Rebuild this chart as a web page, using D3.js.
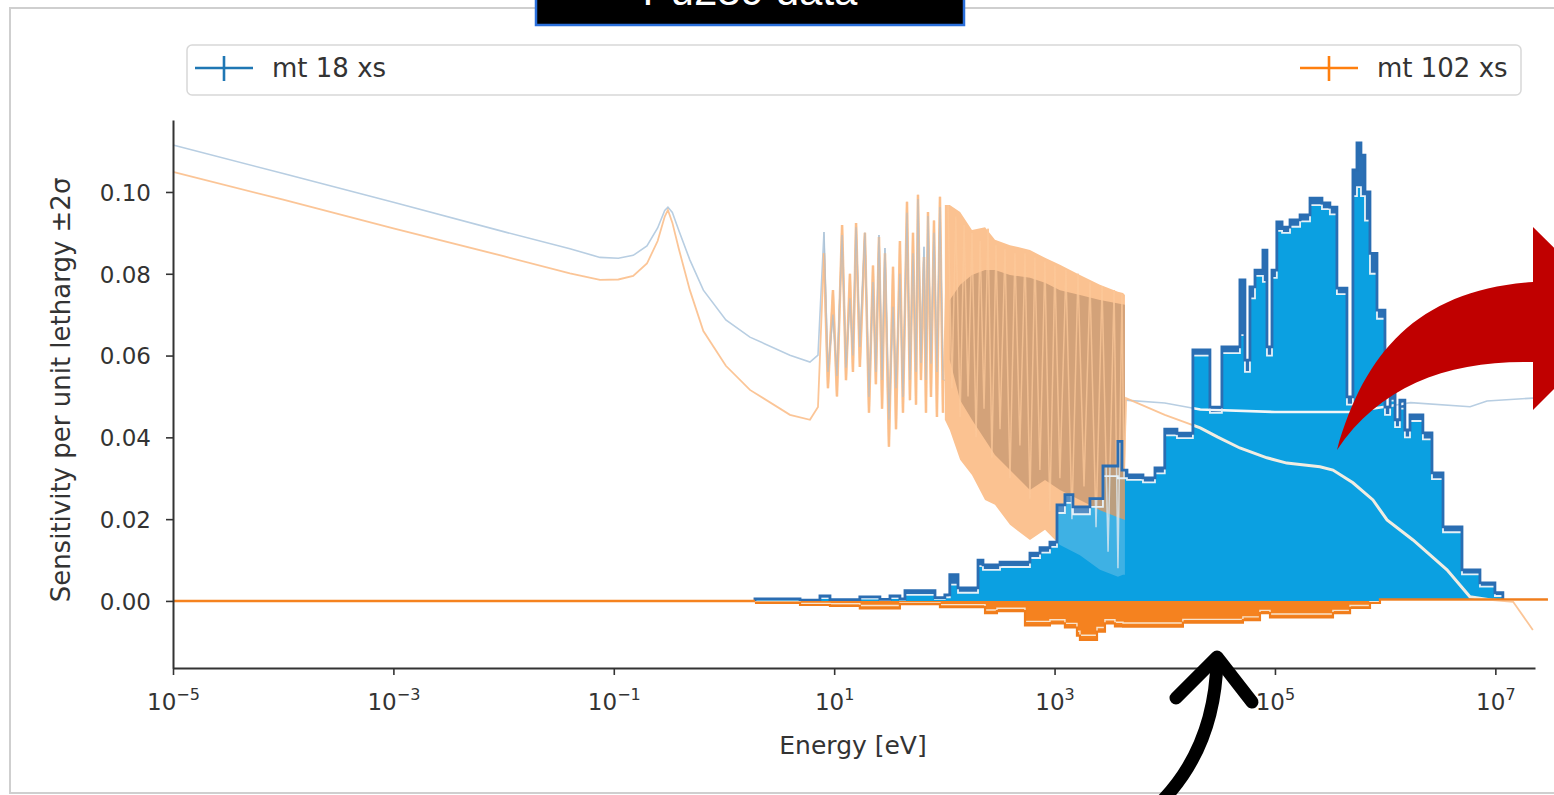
<!DOCTYPE html>
<html>
<head>
<meta charset="utf-8">
<script src="https://cdn.jsdelivr.net/npm/d3@7"></script>
<style>
  body { margin: 0; background: #fff; }
  svg { display: block; font-family: "DejaVu Sans", sans-serif; }
</style>
</head>
<body>
<svg id="chart" width="1554" height="795"></svg>
<script>
// ---- cross sections (faint lines), energy in eV ----
const thermalE = [1e-5, 1e-4, 1e-3, 1e-2, 0.04, 0.075, 0.11, 0.15, 0.2, 0.25, 0.29, 0.31, 0.34, 0.39, 0.49, 0.65, 1.04, 1.72, 3.97, 6.03, 7.13];
const thermalBlue = [0.1115, 0.1045, 0.0975, 0.0903, 0.0861, 0.0840, 0.0838, 0.0845, 0.0868, 0.0912, 0.0955, 0.0963, 0.0950, 0.0905, 0.0834, 0.0760, 0.0687, 0.0645, 0.0601, 0.0584, 0.0601];
const thermalOrange = [0.1049, 0.0981, 0.0911, 0.0843, 0.0801, 0.0785, 0.0786, 0.0795, 0.0825, 0.0880, 0.0940, 0.0956, 0.0925, 0.0860, 0.0760, 0.0660, 0.0575, 0.0516, 0.0455, 0.0443, 0.0474];

const resE = [8.08, 8.78, 9.75, 10.6, 11.8, 12.8, 13.9, 14.8, 15.8, 17.1, 19.0, 20.7, 22.5, 23.9, 25.5, 27.2, 28.9, 31.4, 34.2, 36.4,
  39.5, 42.1, 45.8, 48.7, 51.9, 55.3, 57.6, 61.3, 65.3, 68.1, 71.0, 75.6, 80.5, 85.6, 91.2, 97.1];
const resBlue = [0.0902, 0.0560, 0.0700, 0.0550, 0.0895, 0.0570, 0.0740, 0.0600, 0.0914, 0.0621, 0.0900, 0.0499, 0.0780, 0.0560, 0.0895, 0.0540, 0.0863, 0.0443, 0.0719, 0.0520,
  0.0800, 0.0499, 0.0949, 0.0540, 0.0850, 0.0560, 0.0983, 0.0582, 0.0866, 0.0540, 0.0941, 0.0580, 0.0900, 0.0560, 0.0963, 0.0540];
const resOrange = [0.0850, 0.0520, 0.0760, 0.0500, 0.0919, 0.0540, 0.0800, 0.0560, 0.0924, 0.0572, 0.0900, 0.0460, 0.0820, 0.0530, 0.0890, 0.0470, 0.0850, 0.0377, 0.0817, 0.0420,
  0.0880, 0.0460, 0.0976, 0.0491, 0.0900, 0.0480, 0.0993, 0.0540, 0.0841, 0.0460, 0.0951, 0.0499, 0.0930, 0.0450, 0.0988, 0.0460];

const denseE = [108, 117, 127, 139, 151, 164, 178, 194, 211, 229, 249, 270, 294, 320, 355, 394, 437, 485, 539, 598, 663, 736, 817, 907, 1007, 1118, 1268, 1438, 1631, 1850, 2097, 2378, 2697, 3058, 3467, 3760, 4090, 4265, 4448];
const denseOrange = [0.0968, 0.052, 0.094, 0.045, 0.092, 0.050, 0.090, 0.040, 0.088, 0.047, 0.091, 0.035, 0.087, 0.042, 0.086, 0.030, 0.085, 0.038, 0.085, 0.025, 0.084, 0.032, 0.083, 0.022, 0.082, 0.030, 0.081, 0.020, 0.080, 0.028, 0.078, 0.018, 0.077, 0.012, 0.076, 0.008, 0.075, 0.030, 0.0496];

const bandE = [101, 112, 139, 178, 234, 288, 394, 598, 819, 1120, 1700, 2580, 3760, 4180, 4350];
const bandHi = [0.0968, 0.0968, 0.0951, 0.0907, 0.0914, 0.0883, 0.0870, 0.0858, 0.0839, 0.0822, 0.0797, 0.0773, 0.0756, 0.0753, 0.0748];
const bandLo = [0.0443, 0.0418, 0.0345, 0.0308, 0.0247, 0.0235, 0.0186, 0.0149, 0.0174, 0.0137, 0.0112, 0.0076, 0.0059, 0.0064, 0.0064];
const coreE = [112, 139, 178, 234, 288, 394, 598, 819, 1120, 1700, 2580, 4350];
const coreHi = [0.0736, 0.0773, 0.0797, 0.0809, 0.0809, 0.0797, 0.0790, 0.0778, 0.0760, 0.0748, 0.0736, 0.0724];
const coreLo = [0.0589, 0.0491, 0.0443, 0.0394, 0.0357, 0.0320, 0.0271, 0.0296, 0.0271, 0.0247, 0.0222, 0.0198];

const fastBlueE = [4350, 1e4, 2.1e4, 1e5, 4.8e5, 1.0e6, 1.7e6, 5.9e6, 8.4e6, 2.2e7];
const fastBlue = [0.0491, 0.0484, 0.0468, 0.0462, 0.0462, 0.0475, 0.0485, 0.0475, 0.0489, 0.0496];
const fastOrangeE = [1e4, 2.1e4, 3.0e4, 4.8e4, 8.45e4, 1.28e5, 2.56e5, 3.36e5, 5.1e5, 7.75e5, 1.04e6, 1.79e6, 3.64e6, 5.88e6, 9.5e6, 1.45e7, 2.19e7];
const fastOrange = [0.0455, 0.0423, 0.0401, 0.0374, 0.0350, 0.0337, 0.0328, 0.0320, 0.0289, 0.0247, 0.0198, 0.0149, 0.0076, 0.0010, 0.0002, -0.0002, -0.0071];

// ---- sensitivities (step histograms) ----
const blueEdges = [1.91, 4.90, 7.43, 9.16, 17.1, 26.0, 32.1, 39.5, 43.9, 82.2, 101, 112, 133, 202, 224, 320, 598, 738, 908, 1052, 1242, 1468, 2094, 2748, 3758, 4090, 4540, 6340, 8150,
  1.00e4, 1.29e4, 1.80e4, 2.57e4, 3.30e4, 4.81e4, 5.34e4, 5.93e4, 6.59e4, 7.78e4, 8.46e4, 9.40e4, 1.04e5, 1.16e5, 1.37e5, 1.69e5, 2.08e5, 2.67e5, 3.15e5, 3.65e5, 4.50e5,
  5.10e5, 5.55e5, 6.03e5, 6.56e5, 7.28e5, 8.43e5, 9.96e5, 1.11e6, 1.23e6, 1.36e6, 1.51e6, 1.68e6, 2.20e6, 2.66e6, 3.35e6, 4.98e6, 7.25e6, 9.91e6, 1.17e7];
const blueUpper = [0.0005, 0.0002, 0.0012, 0.0003, 0.0010, 0.0004, 0.0012, 0.0005, 0.0025, 0.0008, 0.0015, 0.0064, 0.0032, 0.0100, 0.0088, 0.0095, 0.0117, 0.0130, 0.0144, 0.0235,
  0.0260, 0.0230, 0.0250, 0.0330, 0.0390, 0.0320, 0.0308, 0.0301, 0.0325, 0.0420, 0.0410, 0.0614, 0.0474, 0.0621, 0.0785, 0.0589, 0.0768, 0.0809, 0.0858, 0.0621,
  0.0809, 0.0927, 0.0914, 0.0932, 0.0944, 0.0985, 0.0973, 0.0963, 0.0765, 0.0499, 0.1054, 0.1120, 0.1090, 0.1000, 0.0850, 0.0711, 0.0474, 0.0516, 0.0443, 0.0491,
  0.0418, 0.0455, 0.0411, 0.0313, 0.0181, 0.0076, 0.0044, 0.0020];
const blueMean = [0.0003, 0.0001, 0.0007, 0.0002, 0.0006, 0.0002, 0.0007, 0.0003, 0.0015, 0.0005, 0.0009, 0.0040, 0.0020, 0.0085, 0.0076, 0.0083, 0.0105, 0.0118, 0.0132, 0.0215,
  0.0240, 0.0212, 0.0230, 0.0305, 0.0300, 0.0300, 0.0296, 0.0290, 0.0312, 0.0405, 0.0398, 0.0600, 0.0460, 0.0606, 0.0650, 0.0560, 0.0740, 0.0795, 0.0780, 0.0600,
  0.0790, 0.0905, 0.0900, 0.0915, 0.0928, 0.0968, 0.0958, 0.0945, 0.0750, 0.0480, 0.0990, 0.1012, 0.0990, 0.0930, 0.0800, 0.0690, 0.0455, 0.0490, 0.0425, 0.0470,
  0.0400, 0.0440, 0.0395, 0.0298, 0.0168, 0.0065, 0.0035, 0.0012];

const orangeEdges = [1.91, 4.90, 9.16, 17.1, 39.5, 91.2, 234, 300, 539, 908, 1242, 1597, 1700, 2427, 2866, 3533, 4180, 1.46e4, 5.12e4, 7.31e4, 9.02e4, 3.36e5, 4.80e5, 7.28e5, 8.97e5, 3.0e7];
const orangeLower = [-0.0005, -0.0010, -0.0012, -0.0018, -0.0008, -0.0015, -0.0030, -0.0025, -0.0060, -0.0055, -0.0065, -0.0085, -0.0095, -0.0075, -0.0055, -0.0062, -0.0063, -0.0053, -0.0047, -0.0030, -0.0040, -0.0030, -0.0017, -0.0005, 0.0004];
const orangeMean = [-0.0003, -0.0006, -0.0007, -0.0011, -0.0005, -0.0009, -0.0022, -0.0018, -0.0050, -0.0046, -0.0055, -0.0074, -0.0084, -0.0065, -0.0046, -0.0052, -0.0054, -0.0045, -0.0039, -0.0023, -0.0032, -0.0023, -0.0011, -0.0002, 0.0002];

const yTicks = [0, 0.02, 0.04, 0.06, 0.08, 0.10];
const xTickExp = [-5, -3, -1, 1, 3, 5, 7];

// ---- chart ----
const svg = d3.select("#chart");
const x = d3.scaleLog().domain([1e-5, 2.29e7]).range([173, 1535]);
const y = d3.scaleLinear().domain([-0.0164, 0.1176]).range([668, 120]);

const pts = (E, V) => E.map((e, i) => [e, V[i]]);
const line = d3.line().x(d => x(d[0])).y(d => y(d[1]));
const band = d3.area().x(d => x(d[0])).y0(d => y(d[1])).y1(d => y(d[2]));

const blueXs = [...pts(thermalE, thermalBlue), ...pts(resE, resBlue), ...pts(fastBlueE, fastBlue)];
const orangeXs = [...pts(thermalE, thermalOrange), ...pts(resE, resOrange), ...pts(denseE, denseOrange), ...pts(fastOrangeE, fastOrange)];
const resOrangeXs = pts(resE, resOrange);
const denseXs = pts(denseE, denseOrange);
const bandData = bandE.map((e, i) => [e, bandLo[i], bandHi[i]]);
const coreData = coreE.map((e, i) => [e, coreLo[i], coreHi[i]]);

const blueSteps = blueEdges.map((e, i) => {
  const k = Math.min(i, blueUpper.length - 1);
  return { e, up: blueUpper[k], mid: blueMean[k] };
});
const orangeSteps = orangeEdges.map((e, i) => {
  const k = Math.min(i, orangeLower.length - 1);
  return { e, up: orangeLower[k], mid: orangeMean[k] };
});
const closed = s => [{ e: s[0].e, up: 0, mid: 0 }, ...s, { e: s[s.length - 1].e, up: 0, mid: 0 }];

const stepFull = d3.area().curve(d3.curveStepAfter).x(d => x(d.e)).y0(y(0)).y1(d => y(d.up));
const stepFill = d3.area().curve(d3.curveStepAfter).x(d => x(d.e)).y0(y(0)).y1(d => y(d.mid));
const stepBand = d3.area().curve(d3.curveStepAfter).x(d => x(d.e)).y0(d => y(d.mid)).y1(d => y(d.up));
const stepUp = d3.line().curve(d3.curveStepAfter).x(d => x(d.e)).y(d => y(d.up));
const stepMid = d3.line().curve(d3.curveStepAfter).x(d => x(d.e)).y(d => y(d.mid));

svg.append("defs").append("clipPath").attr("id", "blueClip")
  .append("path").attr("d", stepFull(blueSteps));

// faint cross section lines
svg.append("path").attr("d", line(blueXs)).attr("fill", "none").attr("stroke", "#b8cee2").attr("stroke-width", 1.6);
svg.append("path").attr("d", line(orangeXs)).attr("fill", "none").attr("stroke", "#fbbf8c").attr("stroke-width", 1.8).attr("stroke-opacity", 0.9);
svg.append("path").attr("d", line(resOrangeXs)).attr("fill", "none").attr("stroke", "#fbbb86").attr("stroke-width", 2.6).attr("stroke-opacity", 0.8);
svg.append("path").attr("d", line(pts(resE, resBlue))).attr("fill", "none").attr("stroke", "#a9bfd2").attr("stroke-width", 1.2).attr("stroke-opacity", 0.7);
svg.append("path").attr("d", band(bandData)).attr("fill", "#fbc291");
svg.append("path").attr("d", band(coreData)).attr("fill", "#d3a279");
svg.append("path").attr("d", line(denseXs)).attr("fill", "none").attr("stroke", "#fcc899").attr("stroke-width", 1.5).attr("stroke-opacity", 0.75);

// mt 18 sensitivity
svg.append("path").attr("d", stepFill(blueSteps)).attr("fill", "#0ba0e1");
svg.append("path").attr("d", stepBand(blueSteps)).attr("fill", "#2a70b5");

// cross sections seen through the blue fill
const inside = svg.append("g").attr("clip-path", "url(#blueClip)");
inside.append("path").attr("d", band(bandData)).attr("fill", "#d6e4ee").attr("fill-opacity", 0.25);
inside.append("path").attr("d", band(coreData)).attr("fill", "#c99c72").attr("fill-opacity", 0.9);
inside.append("path").attr("d", line(denseXs)).attr("fill", "none").attr("stroke", "#dde9f0").attr("stroke-width", 1.5).attr("stroke-opacity", 0.8);
inside.append("path").attr("d", line(blueXs)).attr("fill", "none").attr("stroke", "#f2f6f8").attr("stroke-width", 2.6);
inside.append("path").attr("d", line(orangeXs.slice(-fastOrange.length - 1))).attr("fill", "none").attr("stroke", "#f1ede2").attr("stroke-width", 3);

svg.append("path").attr("d", stepMid(blueSteps)).attr("fill", "none").attr("stroke", "#e6f1f8").attr("stroke-width", 1.8);
svg.append("path").attr("d", stepUp(closed(blueSteps))).attr("fill", "none").attr("stroke", "#2a6db2").attr("stroke-width", 2.8);

// mt 102 sensitivity
svg.append("path").attr("d", stepFull(orangeSteps)).attr("fill", "#f5821f");
svg.append("path").attr("d", stepMid(orangeSteps)).attr("fill", "none").attr("stroke", "#f8e3cc").attr("stroke-width", 1.4);
svg.append("path").attr("d", stepUp(orangeSteps)).attr("fill", "none").attr("stroke", "#f07d1c").attr("stroke-width", 2.2);
svg.append("line")
  .attr("x1", x(1e-5)).attr("x2", x(orangeEdges[0]))
  .attr("y1", y(0)).attr("y2", y(0))
  .attr("stroke", "#f5821f").attr("stroke-width", 2.6);

// axes
const yAxis = svg.append("g").attr("transform", "translate(173,0)")
  .call(d3.axisLeft(y).tickValues(yTicks).tickFormat(d3.format(".2f")).tickSize(7).tickSizeOuter(0));
const xAxis = svg.append("g").attr("transform", "translate(0,668)")
  .call(d3.axisBottom(x).tickValues(xTickExp.map(p => Math.pow(10, p))).tickSize(7).tickSizeOuter(0));
[yAxis, xAxis].forEach(g => {
  g.select(".domain").attr("stroke", "#333").attr("stroke-width", 2);
  g.selectAll(".tick line").attr("stroke", "#333").attr("stroke-width", 1.6);
  g.selectAll(".tick text").attr("fill", "#333").style("font-size", "23px").style("font-family", "DejaVu Sans");
});
yAxis.selectAll(".tick text").attr("x", -22).attr("dy", "0.36em");
xAxis.selectAll(".tick text").each(function (d, i) {
  const p = xTickExp[i];
  const t = d3.select(this).text(null).attr("y", 20).attr("dy", "0.95em");
  t.append("tspan").text("10");
  t.append("tspan").attr("dy", "-0.6em").style("font-size", "16px").text(p < 0 ? "\u2212" + Math.abs(p) : String(p));
});

svg.append("text").attr("x", 853).attr("y", 754).attr("text-anchor", "middle")
  .style("font-size", "25px").attr("fill", "#333").text("Energy [eV]");
svg.append("text").attr("transform", "translate(70,390) rotate(-90)").attr("text-anchor", "middle")
  .style("font-size", "26px").attr("fill", "#333").text("Sensitivity per unit lethargy \u00b12\u03c3");

// legend
const legend = svg.append("g");
legend.append("rect").attr("x", 187).attr("y", 45).attr("width", 1334).attr("height", 50).attr("rx", 5)
  .attr("fill", "#fff").attr("stroke", "#d8d8d8").attr("stroke-width", 1.5);
[["mt 18 xs", "#1f77b4", 195], ["mt 102 xs", "#ff7f0e", 1300]].forEach(([label, c, lx]) => {
  legend.append("line").attr("x1", lx).attr("x2", lx + 58).attr("y1", 68).attr("y2", 68).attr("stroke", c).attr("stroke-width", 2.6);
  legend.append("line").attr("x1", lx + 29).attr("x2", lx + 29).attr("y1", 56).attr("y2", 81).attr("stroke", c).attr("stroke-width", 2.6);
  legend.append("text").attr("x", lx + 77).attr("y", 77).style("font-size", "26px").attr("fill", "#333").text(label);
});

// slide overlays
svg.append("rect").attr("x", 10).attr("y", 8).attr("width", 1570).attr("height", 785)
  .attr("fill", "none").attr("stroke", "#cfcfcf").attr("stroke-width", 2);
svg.append("rect").attr("x", 536).attr("y", -10).attr("width", 428).attr("height", 35)
  .attr("fill", "#000").attr("stroke", "#2a6fdb").attr("stroke-width", 2.5);
svg.append("text").attr("x", 750).attr("y", 5).attr("text-anchor", "middle")
  .style("font-family", "Liberation Sans, Arial, sans-serif").style("font-size", "42px").attr("fill", "#fff").text("Pu239 data");

svg.append("path")
  .attr("d", "M1337,450 C1365,350 1420,290 1533,282 L1533,227 L1625,318 L1533,410 L1533,362 C1450,360 1380,385 1337,450 Z")
  .attr("fill", "#c00000");
svg.append("path").attr("d", "M1163,800 Q1215,745 1217,660")
  .attr("fill", "none").attr("stroke", "#000").attr("stroke-width", 13).attr("stroke-linecap", "round");
svg.append("path").attr("d", "M1176,698 L1217,657 L1252,702")
  .attr("fill", "none").attr("stroke", "#000").attr("stroke-width", 13).attr("stroke-linecap", "round").attr("stroke-linejoin", "round");
</script>
</body>
</html>
